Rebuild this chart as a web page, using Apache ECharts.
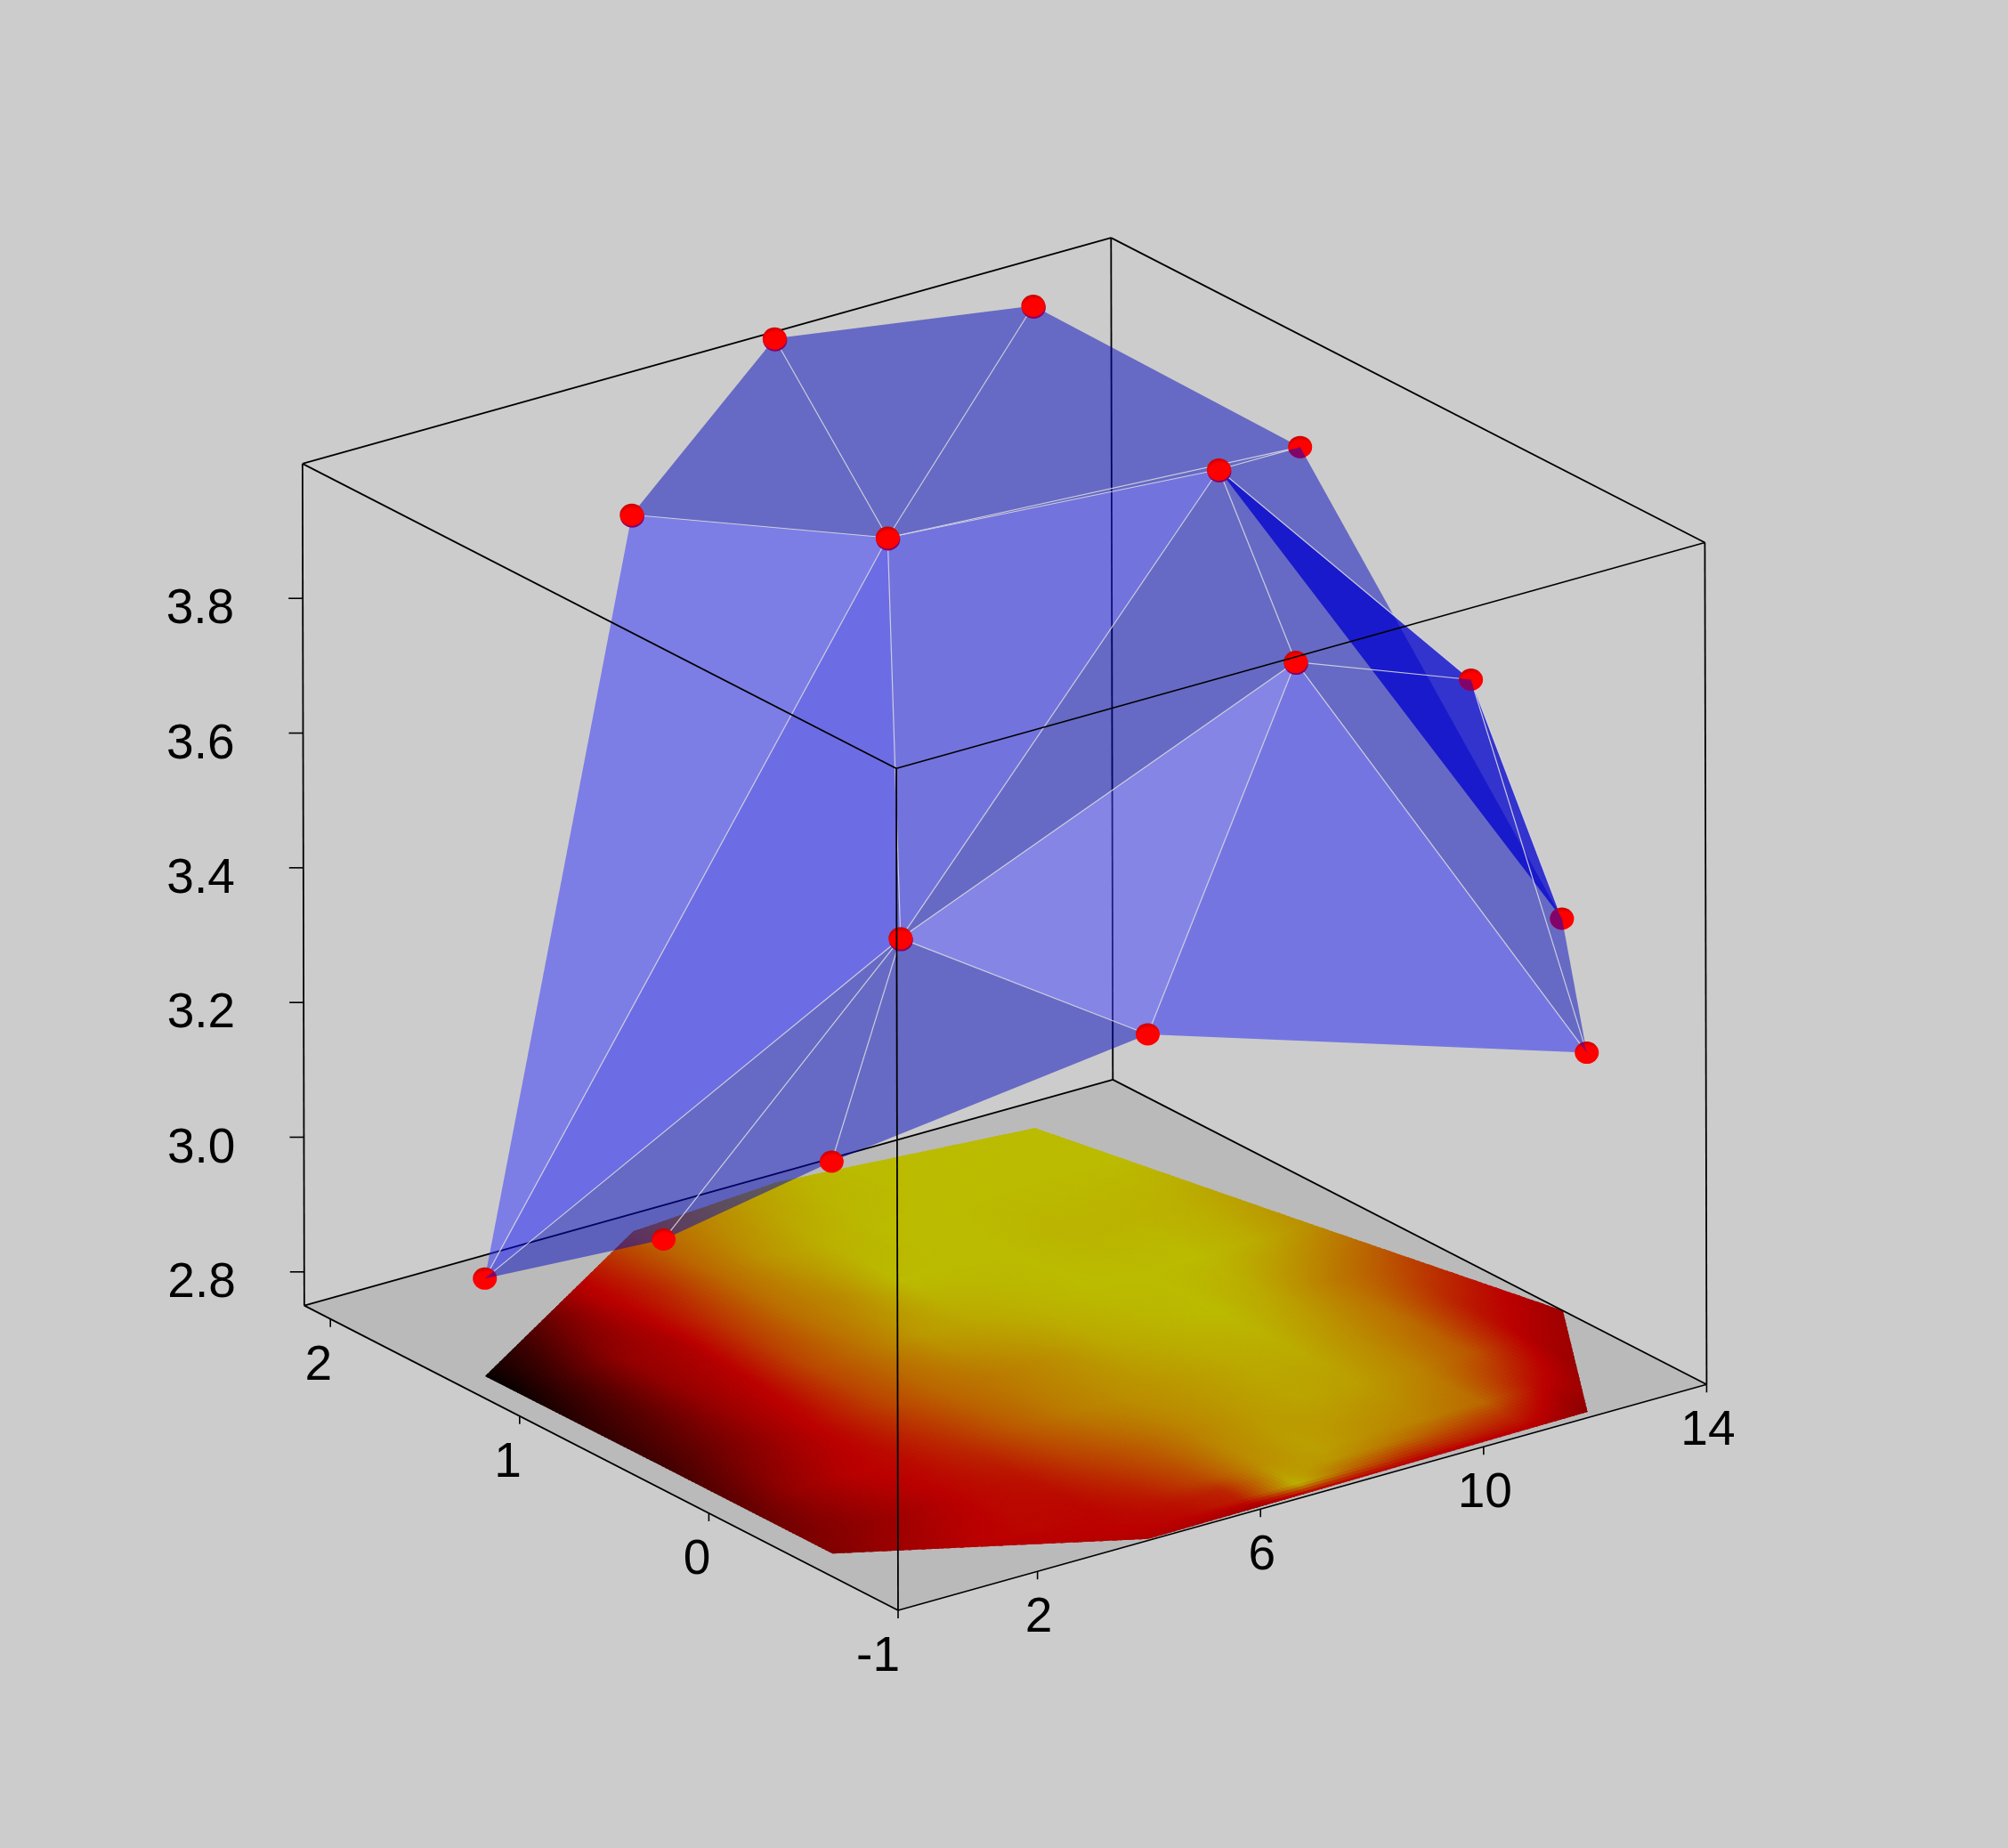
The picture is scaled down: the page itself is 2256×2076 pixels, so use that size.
<!DOCTYPE html>
<html><head><meta charset="utf-8">
<style>html,body{margin:0;padding:0;background:#cccccc}#c{width:2256px;height:2076px}</style>
<script src="https://cdn.jsdelivr.net/npm/echarts@6/dist/echarts.min.js"></script>
</head><body><div id="c"></div>
<script>
// ---- data ----
const pointX = [0, 0.02, 0.02, 4.03, 4.55, 12, 14, 7.34, 11.09, 10.07, 13, 7.62, 12, 7.77, 5];
const pointY = [1.33, 0.39, -0.5, -0.99, 0.47, -0.96, -0.24, -0.8, -0.62, 0.41, 0.845, 1.44, 1.96, 2.08, 2.02];
const pointZ = [2.895, 3.088, 3.332, 3.499, 3.419, 3.283, 3.332, 3.948, 3.809, 3.996, 3.899, 3.803, 3.971, 4.003, 3.814];
const xTicks = [2, 6, 10, 14];
const yTicks = [-1, 0, 1, 2];
const zTicks = [2.8, 3.0, 3.2, 3.4, 3.6, 3.8];
const xRange = [-0.5, 14];
const yRange = [-1, 2.138];
const zRange = [2.75, 4];
// point indices: A0 B1 C2 D3 E4 F5 G6 H7 I8 J9 K10 L11 M12 N13 O14
const hull = [0, 14, 13, 12, 10, 6, 5, 3, 2, 1];
const facesDark = [[14,13,11],[13,12,11],[12,10,11],[11,10,9],[4,9,7],[7,5,6,10,9],[4,3,2],[4,2,1],[4,1,0]];
const facesLight = [[14,11,0]];
const facesBlue = [[0,11,4]];
const facesMid = [[11,9,4]];
const facesBright = [[4,7,3]];
const facesSoft = [[7,3,5]];
const facesDeep = [[9,8,6]];
const wires = [[11,13],[11,12],[11,14],[11,10],[11,9],[11,0],[11,4],[4,9],[4,7],[4,3],[4,2],[4,1],[4,0],[9,7],[9,10],[7,8],[7,3],[7,5],[8,5],[8,6],[9,8]];
const sunkenPoints = [12, 13, 14, 11, 9, 4, 7];
const dotCovers = [[9,10,6,10],[10,6,5,6],[7,8,5,8],[7,5,8,5],[4,0,1,0]];
const heatX = [0,1,2,3,4,5,6,7,8,9,10,11,12,13,14];
const heatY = [-1,-0.9,-0.8,-0.7,-0.35,0,0.4,0.8,1.2,1.6,2.1];
const heatRow0 = [.4,.42,.45,.47,.47,.45,.38,.35,.4,.42,.42,.44,.38,.36,.36];
const heatRow1 = [.4,.42,.46,.48,.5,.52,.58,.98,.76,.63,.6,.55,.4,.37,.36];
const heatRow2 = [.4,.42,.47,.5,.51,.54,.6,.92,.9,.82,.73,.65,.45,.38,.36];
const heatRow3 = [.36,.45,.5,.52,.51,.57,.69,.88,.93,.88,.84,.78,.52,.38,.37];
const heatRow4 = [.33,.38,.45,.52,.55,.66,.75,.85,.91,.94,.92,.85,.73,.48,.4];
const heatRow5 = [.25,.4,.49,.53,.62,.74,.83,.88,.91,.95,.96,.88,.79,.58,.48];
const heatRow6 = [.17,.3,.42,.54,.68,.78,.83,.88,.95,.98,1,.94,.83,.73,.6];
const heatRow7 = [.12,.24,.4,.5,.69,.8,.91,.95,.98,1,1,1,.96,.88,.8];
const heatRow8 = [.02,.2,.39,.46,.65,.8,.875,1,1,1,.98,.98,.97,.93,.87];
const heatRow9 = [0,.1,.28,.47,.6,.78,.9,.97,1,1,1,1,1,1,1];
const heatRow10 = [0,.1,.3,.45,.62,.75,.83,.91,.97,1,1,1,1,1,1];
const heatRows = [heatRow0,heatRow1,heatRow2,heatRow3,heatRow4,heatRow5,heatRow6,heatRow7,heatRow8,heatRow9,heatRow10];

// ---- orthographic view of the box on the page ----
const view = {ox:1009, oy:1809, xx:62.65, xy:-17.5, yx:-212.6, yy:-109.1, zx:-1.6, zy:-756.6};
function project(x,y,z){
  const a=x-xRange[0], b=y-yRange[0], c=z-zRange[0];
  return [view.ox+a*view.xx+b*view.yx+c*view.zx, view.oy+a*view.xy+b*view.yy+c*view.zy];
}
const pts = pointX.map((x,i)=>project(x,pointY[i],pointZ[i]));
const [x0,x1]=xRange,[y0,y1]=yRange,[z0,z1]=zRange;
const backEdges = [[[x0,y1,z0],[x1,y1,z0]],[[x1,y1,z0],[x1,y0,z0]],[[x1,y1,z0],[x1,y1,z1]],[[x0,y1,z1],[x1,y1,z1]],[[x1,y1,z1],[x1,y0,z1]]];
const frontEdges = [[[x0,y0,z0],[x1,y0,z0]],[[x0,y0,z0],[x0,y1,z0]],[[x0,y0,z0],[x0,y0,z1]],[[x0,y1,z0],[x0,y1,z1]],[[x1,y0,z0],[x1,y0,z1]],[[x0,y0,z1],[x1,y0,z1]],[[x0,y0,z1],[x0,y1,z1]]];

function heatColor(t){
  t=Math.max(0,Math.min(1,t));
  const r=t<.5?187*t/.5:187, g=t<.5?0:187*(t-.5)/.5;
  return 'rgb('+Math.round(r)+','+Math.round(g)+',0)';
}
function heatAt(i,j,u,v){
  const r0=heatRows[j],r1=heatRows[j+1];
  return (r0[i]*(1-u)+r0[i+1]*u)*(1-v)+(r1[i]*(1-u)+r1[i+1]*u)*v;
}
const toPix=(api,p)=>api.coord(p);

function polySeries(faces,fill,z){
  return {type:'custom',coordinateSystem:'cartesian2d',silent:true,animation:false,z:z,clip:false,
    data:faces.map((f,i)=>[i]),
    renderItem(params,api){
      const f=faces[params.dataIndex];
      return {type:'polygon',shape:{points:f.map(k=>toPix(api,pts[k]))},style:{fill:fill}};
    }};
}
function lineSeries(items,toEnds,stroke,width,z){
  return {type:'custom',coordinateSystem:'cartesian2d',silent:true,animation:false,z:z,clip:false,
    data:items.map((f,i)=>[i]),
    renderItem(params,api){
      const e=toEnds(items[params.dataIndex]);
      const a=toPix(api,e[0]),b=toPix(api,e[1]);
      return {type:'line',shape:{x1:a[0],y1:a[1],x2:b[0],y2:b[1]},style:{stroke:stroke,lineWidth:width}};
    }};
}
function textSeries(items,z){
  return {type:'custom',coordinateSystem:'cartesian2d',silent:true,animation:false,z:z,clip:false,
    data:items.map((f,i)=>[i]),
    renderItem(params,api){
      const t=items[params.dataIndex];
      const p=toPix(api,t.at);
      return {type:'text',style:{text:t.text,x:p[0]+t.dx,y:p[1]+t.dy,fill:'#000',font:'55px "Liberation Sans"',align:t.align,verticalAlign:'middle'}};
    }};
}
const floorCorners=[[x0,y0],[x1,y0],[x1,y1],[x0,y1]].map(c=>project(c[0],c[1],z0));
const floorPts=hull.map(k=>project(pointX[k],pointY[k],z0));

const heatSeries={type:'custom',coordinateSystem:'cartesian2d',silent:true,animation:false,z:3,clip:false,
  data:[[0]],
  renderItem(params,api){
    const children=[];
    for(let j=0;j<heatY.length-1;j++){
      const ny=Math.max(1,Math.round((heatY[j+1]-heatY[j])/0.02));
      for(let i=0;i<heatX.length-1;i++){
        const nx=12;
        for(let a=0;a<nx;a++)for(let b=0;b<ny;b++){
          const u0=a/nx,u1=(a+1)/nx,v0=b/ny,v1=(b+1)/ny;
          const X=u=>heatX[i]+(heatX[i+1]-heatX[i])*u, Y=v=>heatY[j]+(heatY[j+1]-heatY[j])*v;
          const col=heatColor(heatAt(i,j,(u0+u1)/2,(v0+v1)/2));
          children.push({type:'polygon',silent:true,shape:{points:[[u0,v0],[u1,v0],[u1,v1],[u0,v1]].map(q=>toPix(api,project(X(q[0]),Y(q[1]),z0)))},style:{fill:col,stroke:col,lineWidth:1}});
        }
      }
    }
    return {type:'group',children:children,clipPath:{type:'polygon',shape:{points:floorPts.map(p=>toPix(api,p))}}};
  }};

const zTickEnds=zTicks.map(v=>({a:project(x0,y1,v),d:[-16,0]}));
const xTickEnds=xTicks.map(v=>({a:project(v,y0,z0),d:[0,9]}));
const yTickEnds=yTicks.map(v=>({a:project(x0,v,z0),d:[0,9]}));
const tickItems=[...zTickEnds,...xTickEnds,...yTickEnds];
const labels=[
  ...zTicks.map(v=>({text:v.toFixed(1),at:project(x0,y1,v),dx:-77,dy:13,align:'right'})),
  ...xTicks.map(v=>({text:String(v),at:project(v,y0,z0),dx:1.5,dy:53,align:'center'})),
  ...yTicks.map(v=>({text:String(v),at:project(x0,v,z0),dx:2,dy:53,align:'right'}))
];
const dotSize=[27,25];
const coverSeries={type:'custom',coordinateSystem:'cartesian2d',silent:true,animation:false,z:8.5,clip:false,
  data:dotCovers.map((f,i)=>[i]),
  renderItem(params,api){
    const c=dotCovers[params.dataIndex];
    const centre=toPix(api,pts[c[3]]);
    return {type:'group',
      clipPath:{type:'ellipse',shape:{cx:centre[0],cy:centre[1],rx:dotSize[0]/2,ry:dotSize[1]/2}},
      children:[{type:'polygon',shape:{points:c.slice(0,3).map(k=>toPix(api,pts[k]))},style:{fill:'#80046a'}}]};
  }};

const chart=echarts.init(document.getElementById('c'),null,{renderer:'canvas',width:2256,height:2076});
chart.setOption({
  animation:false,backgroundColor:'#cccccc',
  grid:{left:0,right:0,top:0,bottom:0},
  xAxis:{type:'value',min:0,max:2256,show:false},
  yAxis:{type:'value',min:0,max:2076,inverse:true,show:false},
  series:[
    {type:'custom',coordinateSystem:'cartesian2d',silent:true,animation:false,z:2,clip:false,data:[[0]],
      renderItem(p,api){return {type:'polygon',shape:{points:floorCorners.map(c=>toPix(api,c))},style:{fill:'#bababa'}};}},
    heatSeries,
    lineSeries(backEdges,e=>[project(...e[0]),project(...e[1])],'#000',1.8,4),
    polySeries(facesDark,'rgba(0,8,188,0.5)',5),
    polySeries(facesLight,'rgba(46,46,255,0.5)',5),
    polySeries(facesBlue,'rgba(12,12,252,0.5)',5),
    polySeries(facesMid,'rgba(26,26,240,0.5)',5),
    polySeries(facesBright,'rgba(62,62,255,0.5)',5),
    polySeries(facesSoft,'rgba(30,30,248,0.5)',5),
    polySeries(facesDeep,'rgba(0,0,205,0.75)',6),
    lineSeries(wires,w=>[pts[w[0]],pts[w[1]]],'rgba(214,214,224,0.9)',1.2,7),
    {type:'scatter',silent:true,animation:false,z:7.5,clip:false,symbol:'circle',symbolSize:dotSize,symbolOffset:[0.5,2],
      data:sunkenPoints.map(k=>[pts[k][0],pts[k][1]]),
      itemStyle:{opacity:1,color:'#80046a'}},
    {type:'scatter',silent:true,animation:false,z:8,clip:false,symbol:'circle',symbolSize:dotSize,
      data:pts.map(p=>[p[0],p[1]]),
      itemStyle:{opacity:1,color:new echarts.graphic.RadialGradient(0.55,0.7,0.9,[{offset:0,color:'#ff0000'},{offset:.55,color:'#ff0000'},{offset:1,color:'#900000'}])}},
    coverSeries,
    lineSeries(frontEdges,e=>[project(...e[0]),project(...e[1])],'#000',1.8,9),
    lineSeries(tickItems,t=>[t.a,[t.a[0]+t.d[0],t.a[1]+t.d[1]]],'#000',1.6,9),
    textSeries(labels,10)
  ]
});
</script></body></html>
